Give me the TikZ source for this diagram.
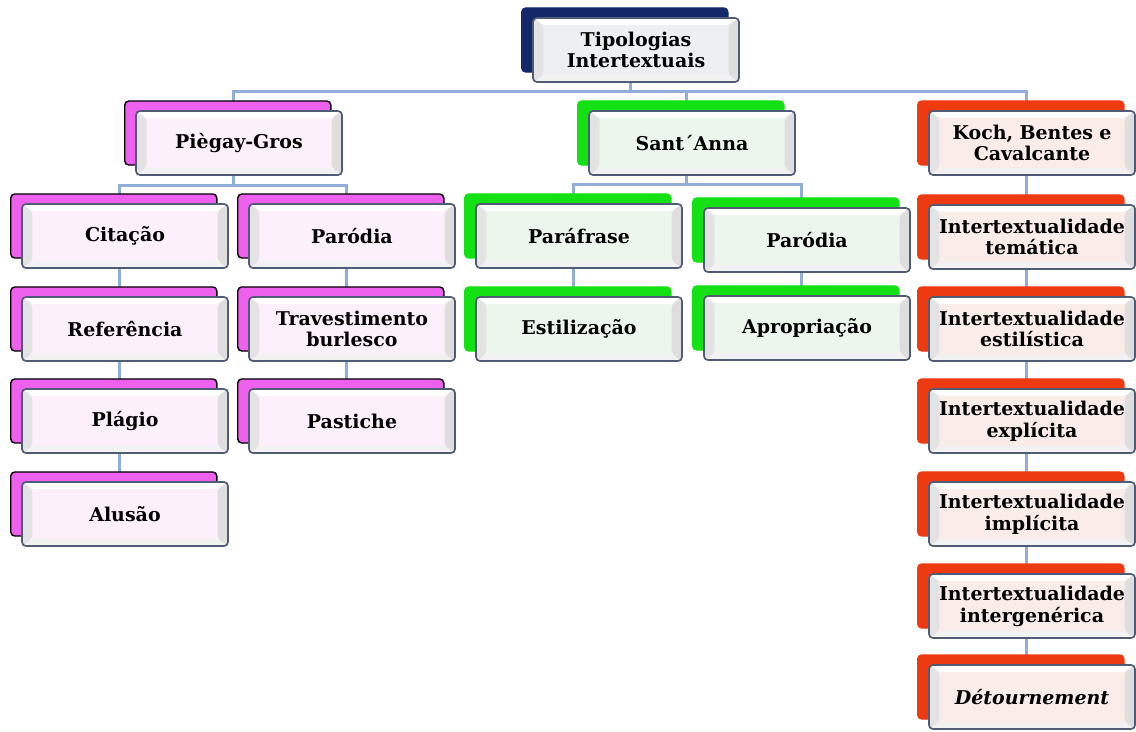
\documentclass[tikz,border=0pt]{standalone}
\usepackage{fontspec}
\setmainfont{DejaVu Serif}
\usetikzlibrary{shadows,backgrounds}

\definecolor{borda}{RGB}{80,92,118}
\definecolor{linha}{RGB}{145,174,216}
\definecolor{marinho}{RGB}{20,40,105}
\definecolor{magenta1}{RGB}{238,96,238}
\definecolor{verde1}{RGB}{20,225,20}
\definecolor{laranja1}{RGB}{238,58,16}
\definecolor{faceAzul}{RGB}{238,239,243}
\definecolor{faceRosa}{RGB}{252,240,251}
\definecolor{faceVerde}{RGB}{236,246,236}
\definecolor{faceLaranja}{RGB}{250,236,233}

\newcommand{\pbb}{path picture bounding box}
\newcommand{\desvio}{0.14cm}

\tikzset{
  chanfro/.style={path picture={
    \fill[white] (\pbb.north west) -- (\pbb.north east) -- ([shift={(-0.26cm,-0.18cm)}]\pbb.north east) -- ([shift={(0.26cm,-0.18cm)}]\pbb.north west) -- cycle;
    \fill[gray!10] (\pbb.south west) -- (\pbb.south east) -- ([shift={(-0.26cm,0.18cm)}]\pbb.south east) -- ([shift={(0.26cm,0.18cm)}]\pbb.south west) -- cycle;
    \fill[gray!22] (\pbb.north west) -- ([shift={(0.26cm,-0.18cm)}]\pbb.north west) -- ([shift={(0.26cm,0.18cm)}]\pbb.south west) -- (\pbb.south west) -- cycle;
    \fill[gray!26] (\pbb.north east) -- ([shift={(-0.26cm,-0.18cm)}]\pbb.north east) -- ([shift={(-0.26cm,0.18cm)}]\pbb.south east) -- (\pbb.south east) -- cycle;
  }},
  caixa/.style={rectangle, rounded corners=0.1cm, draw=borda, line width=1.2pt, fill=#1,
    minimum width=5.15cm, minimum height=1.6cm, text width=4.95cm, inner xsep=0.1cm,
    align=center, font=\fontsize{13.5}{15.5}\selectfont\bfseries, chanfro},
  atras/.style={general shadow={shadow xshift=-0.28cm, shadow yshift=0.25cm, #1}},
  topo/.style={caixa=faceAzul, atras={fill=marinho, draw=marinho, line width=1pt}},
  rosa/.style={caixa=faceRosa, atras={fill=magenta1, draw=black, line width=1pt}},
  verde/.style={caixa=faceVerde, atras={fill=verde1, draw=verde1, line width=1pt}},
  laranja/.style={caixa=faceLaranja, atras={fill=laranja1, draw=laranja1, line width=1pt}},
  link/.style={draw=linha, line width=2.2pt},
}

\begin{document}
\begin{tikzpicture}[x=0.025cm, y=-0.025cm]
\useasboundingbox (0,0) rectangle (1136,731);

\node[topo] (tip) at (636,50) {Tipologias\\Intertextuais};

% segundo nivel
\node[rosa] (pg) at (239,143) {Piègay-Gros};
\node[verde] (sa) at (692,143) {Sant´Anna};
\node[laranja] (kbc) at (1032,143) {Koch, Bentes e\\Cavalcante};

% Piegay-Gros
\node[rosa] (cit) at (125,236) {Citação};
\node[rosa] (ref) at (125,329) {Referência};
\node[rosa] (pla) at (125,421) {Plágio};
\node[rosa] (alu) at (125,514) {Alusão};
\node[rosa] (par1) at (352,236) {Paródia};
\node[rosa] (tra) at (352,329) {Travestimento\\burlesco};
\node[rosa] (pas) at (352,421) {Pastiche};

% Sant'Anna
\node[verde] (paf) at (579,236) {Paráfrase};
\node[verde] (est) at (579,329) {Estilização};
\node[verde] (par2) at (807,240) {Paródia};
\node[verde] (apr) at (807,328) {Apropriação};

% Koch, Bentes e Cavalcante
\foreach \n/\y/\t in {ite/237/temática, ies/329/estilística, iex/421/explícita, iim/514/implícita, iin/606/intergenérica}
  \node[laranja] (\n) at (1032,\y) {Intertextualidade\\\t};
\node[laranja] (det) at (1032,697) {\textit{Détournement}};

% ligacoes
\begin{scope}[on background layer]
\foreach \f in {pg,sa,kbc}
  \draw[link] ([xshift=-\desvio]tip.south) -- ++(0,9) -| ([xshift=-\desvio]\f.north);
\foreach \f in {cit,par1}
  \draw[link] ([xshift=-\desvio]pg.south) -- ++(0,10) -| ([xshift=-\desvio]\f.north);
\foreach \f in {paf,par2}
  \draw[link] ([xshift=-\desvio]sa.south) -- ++(0,9) -| ([xshift=-\desvio]\f.north);
\foreach \a/\b in {cit/ref, ref/pla, pla/alu, par1/tra, tra/pas, paf/est, par2/apr,
                   kbc/ite, ite/ies, ies/iex, iex/iim, iim/iin, iin/det}
  \draw[link] ([xshift=-\desvio]\a.south) -- ([xshift=-\desvio]\b.north);
\end{scope}
\end{tikzpicture}
\end{document}
